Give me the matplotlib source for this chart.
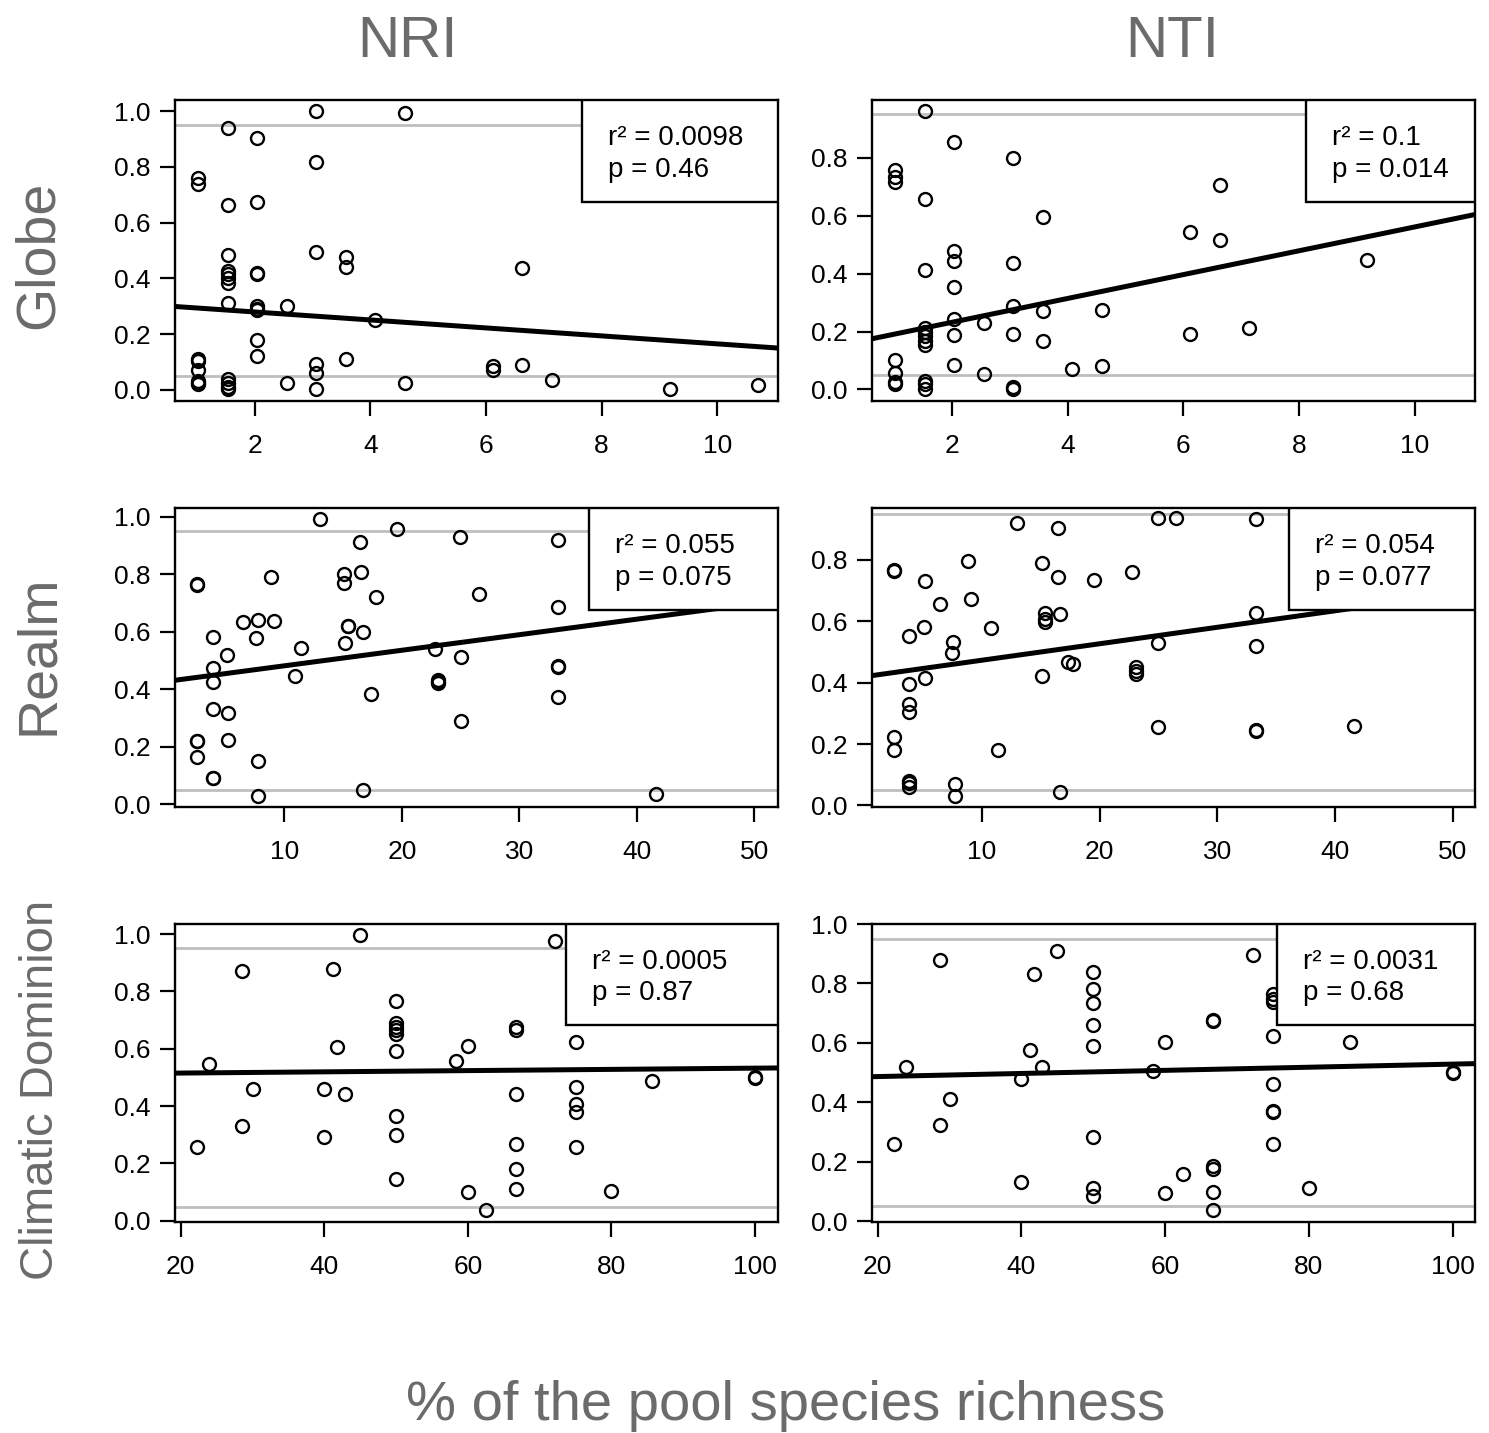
#!/usr/bin/env python3
import matplotlib
matplotlib.use('Agg')
import matplotlib.pyplot as plt
from matplotlib.patches import Rectangle

plt.rcParams['font.family'] = ['Liberation Sans', 'DejaVu Sans']

# ---- Globe, NRI ----
globe_nri_x = [1.02, 1.02, 1.02, 1.02, 1.02, 1.02, 1.02, 1.02,
               1.53, 1.53, 1.53, 1.53, 1.53, 1.53, 1.53, 1.53, 1.53, 1.53, 1.53, 1.53,
               2.04, 2.04, 2.04, 2.04, 2.04, 2.04, 2.04, 2.04, 2.04,
               2.55, 2.55, 3.06, 3.06, 3.06, 3.06, 3.06, 3.06,
               3.57, 3.57, 3.57, 4.08, 4.59, 4.59, 6.12, 6.12, 6.63, 6.63,
               7.14, 9.18, 10.71]
globe_nri_y = [0.76, 0.74, 0.11, 0.105, 0.07, 0.03, 0.025, 0.02,
               0.94, 0.665, 0.485, 0.425, 0.415, 0.40, 0.385, 0.31, 0.04, 0.026, 0.01, 0.002,
               0.905, 0.675, 0.42, 0.415, 0.30, 0.29, 0.285, 0.18, 0.12,
               0.30, 0.024, 1.0, 0.817, 0.493, 0.093, 0.062, 0.002,
               0.475, 0.44, 0.11, 0.249, 0.992, 0.026, 0.086, 0.072, 0.437, 0.09,
               0.036, 0.004, 0.017]

# ---- Globe, NTI ----
globe_nti_x = [1.02, 1.02, 1.02, 1.02, 1.02, 1.02, 1.02,
               1.53, 1.53, 1.53, 1.53, 1.53, 1.53, 1.53, 1.53, 1.53, 1.53, 1.53,
               2.04, 2.04, 2.04, 2.04, 2.04, 2.04, 2.04,
               2.55, 2.55, 3.06, 3.06, 3.06, 3.06, 3.06, 3.06,
               3.57, 3.57, 3.57, 4.08, 4.59, 4.59, 6.12, 6.12, 6.63, 6.63,
               7.14, 9.18]
globe_nti_y = [0.757, 0.734, 0.716, 0.101, 0.058, 0.025, 0.018,
               0.961, 0.658, 0.414, 0.211, 0.198, 0.184, 0.167, 0.152, 0.03, 0.02, 0.002,
               0.855, 0.478, 0.443, 0.355, 0.244, 0.188, 0.083,
               0.23, 0.052, 0.80, 0.436, 0.288, 0.19, 0.008, 0.002,
               0.596, 0.27, 0.167, 0.071, 0.276, 0.08, 0.543, 0.19, 0.708, 0.516,
               0.213, 0.447]

# ---- Realm, NRI ----
realm_nri_x = [2.61, 2.61, 2.61, 2.61, 2.61,
               3.93, 3.93, 3.93, 3.93, 3.93, 3.93,
               5.15, 5.2, 5.2, 6.47, 7.6, 7.8, 7.8, 7.8, 8.86, 9.13,
               10.87, 11.4, 13.03, 15.12, 15.12, 15.2, 15.42, 15.42,
               16.45, 16.52, 16.7, 16.7, 17.39, 17.77, 19.6,
               22.78, 23.08, 23.08, 23.08, 24.98, 25.05, 25.05, 26.57,
               33.3, 33.3, 33.3, 33.3, 33.3, 41.66]
realm_nri_y = [0.763, 0.765, 0.22, 0.218, 0.164,
               0.582, 0.474, 0.425, 0.33, 0.092, 0.09,
               0.52, 0.316, 0.222, 0.632, 0.578, 0.642, 0.15, 0.029, 0.79, 0.638,
               0.445, 0.543, 0.992, 0.801, 0.769, 0.561, 0.621, 0.618,
               0.913, 0.809, 0.598, 0.049, 0.382, 0.72, 0.956,
               0.541, 0.432, 0.425, 0.42, 0.928, 0.512, 0.289, 0.732,
               0.919, 0.686, 0.48, 0.476, 0.373, 0.035]

# ---- Realm, NTI ----
realm_nti_x = [2.54, 2.54, 2.54, 2.54,
               3.84, 3.84, 3.84, 3.84, 3.84, 3.84, 3.84,
               5.07, 5.19, 5.19, 6.46, 7.57, 7.45, 7.76, 7.76, 8.81, 9.07,
               10.82, 11.38, 12.99, 15.1, 15.1, 15.35, 15.35, 15.35,
               16.45, 16.45, 16.64, 16.64, 17.35, 17.72, 19.51, 22.76,
               23.06, 23.06, 23.06, 25.0, 25.0, 25.0, 26.53,
               33.32, 33.32, 33.32, 33.32, 33.32, 41.64]
realm_nti_y = [0.762, 0.765, 0.224, 0.181,
               0.55, 0.394, 0.331, 0.304, 0.081, 0.073, 0.06,
               0.582, 0.73, 0.414, 0.654, 0.533, 0.495, 0.07, 0.03, 0.795, 0.672,
               0.578, 0.181, 0.919, 0.789, 0.42, 0.627, 0.607, 0.598,
               0.902, 0.743, 0.623, 0.043, 0.466, 0.461, 0.735, 0.761,
               0.45, 0.438, 0.428, 0.934, 0.528, 0.255, 0.934,
               0.932, 0.627, 0.518, 0.246, 0.242, 0.258]

# ---- Climatic Dominion, NRI ----
cd_nri_x = [22.2, 24.0, 28.6, 28.6, 30.0, 40.0, 40.0, 41.2, 41.7, 42.9, 45.0,
            50, 50, 50, 50, 50, 50, 50, 50, 50,
            58.3, 60, 60, 62.5, 66.7, 66.7, 66.7, 66.7, 66.7, 66.7,
            72.2, 75, 75, 75, 75, 75, 80, 85.7, 100, 100]
cd_nri_y = [0.257, 0.547, 0.87, 0.329, 0.461, 0.459, 0.291, 0.878, 0.607, 0.444, 0.997,
            0.767, 0.69, 0.676, 0.664, 0.65, 0.591, 0.366, 0.298, 0.146,
            0.558, 0.61, 0.102, 0.037, 0.677, 0.664, 0.444, 0.268, 0.182, 0.111,
            0.976, 0.624, 0.467, 0.407, 0.381, 0.257, 0.105, 0.486, 0.503, 0.498]

# ---- Climatic Dominion, NTI ----
cd_nti_x = [22.2, 24.0, 28.6, 28.6, 30.0, 40.0, 40.0, 41.2, 41.7, 42.9, 45.0,
            50, 50, 50, 50, 50, 50, 50, 50,
            58.3, 60, 60, 62.5, 66.7, 66.7, 66.7, 66.7, 66.7, 66.7,
            72.2, 75, 75, 75, 75, 75, 75, 75, 75, 80, 85.7, 100, 100]
cd_nti_y = [0.261, 0.519, 0.878, 0.322, 0.411, 0.478, 0.13, 0.577, 0.833, 0.519, 0.908,
            0.839, 0.78, 0.733, 0.66, 0.588, 0.283, 0.113, 0.086,
            0.504, 0.604, 0.093, 0.158, 0.678, 0.672, 0.186, 0.174, 0.097, 0.036,
            0.894, 0.763, 0.749, 0.738, 0.622, 0.461, 0.371, 0.366, 0.258, 0.11, 0.602, 0.502, 0.498]

# fitted lines (intercept, slope) and the stats shown in the boxes
fit_lines = [(0.308, -0.0143), (0.1495, 0.0412),
             (0.427, 0.00541), (0.419, 0.00536),
             (0.511, 0.000214), (0.476, 0.000524)]
r2_labels = ['0.0098', '0.1', '0.055', '0.054', '0.0005', '0.0031']
p_labels = ['0.46', '0.014', '0.075', '0.077', '0.87', '0.68']

col_titles = ['NRI', 'NTI']
row_titles = ['Globe', 'Realm', 'Climatic Dominion']
x_label = '% of the pool species richness'

x_ticks = [[2, 4, 6, 8, 10], [10, 20, 30, 40, 50], [20, 40, 60, 80, 100]]
y_ticks_nri = [0.0, 0.2, 0.4, 0.6, 0.8, 1.0]
y_ticks_nti = [[0.0, 0.2, 0.4, 0.6, 0.8], [0.0, 0.2, 0.4, 0.6, 0.8], [0.0, 0.2, 0.4, 0.6, 0.8, 1.0]]

TEXT_GREY = '#6b6b6b'
W, H = 1489, 1433


def draw_panel(ax, xs, ys, xlim, ylim, xt, yt, fit, r2, p, box_left):
    ax.axhline(0.05, color='#bebebe', lw=2.0, zorder=1)
    ax.axhline(0.95, color='#bebebe', lw=2.0, zorder=1)
    ax.plot(xs, ys, 'o', mfc='none', mec='black', ms=9.3, mew=1.7, zorder=2)
    ax.axline((0, fit[0]), slope=fit[1], color='black', lw=3.6, zorder=3)

    ax.set_xlim(xlim)
    ax.set_ylim(ylim)
    ax.set_xticks(xt)
    ax.set_xticklabels([f'{t:g}' for t in xt])
    ax.set_yticks(yt)
    ax.set_yticklabels([f'{t:.1f}' for t in yt])
    ax.tick_params(axis='both', length=10.5, width=1.6, labelsize=19)
    ax.tick_params(axis='x', pad=13)
    ax.tick_params(axis='y', pad=7)
    for s in ax.spines.values():
        s.set_linewidth(1.7)

    # stats box in the top right corner, like R's legend()
    box = Rectangle((box_left, 0.66), 1 - box_left, 0.34, transform=ax.transAxes,
                    fc='white', ec='black', lw=1.7, zorder=5)
    ax.add_patch(box)
    tx = box_left + 26 / 603
    ax.text(tx, 1 - 45 / 300, f'r\u00b2 = {r2}', transform=ax.transAxes,
            fontsize=20, va='baseline', zorder=6)
    ax.text(tx, 1 - 77 / 300, f'p = {p}', transform=ax.transAxes,
            fontsize=20, va='baseline', zorder=6)


def main():
    fig = plt.figure(figsize=(W / 100, H / 100), dpi=100)

    col_left = [175 / W, 872 / W]
    col_w = 603 / W
    rows = [(1 - 401 / H, 301 / H), (1 - 807 / H, 299 / H), (1 - 1222 / H, 298 / H)]

    panels = [
        (globe_nri_x, globe_nri_y, (0.62, 11.05), (-0.04, 1.04), 0.675),
        (globe_nti_x, globe_nti_y, (0.62, 11.04), (-0.04, 1.0), 0.720),
        (realm_nri_x, realm_nri_y, (0.7, 52.0), (-0.01, 1.03), 0.687),
        (realm_nti_x, realm_nti_y, (0.67, 51.9), (-0.005, 0.968), 0.692),
        (cd_nri_x, cd_nri_y, (19.2, 103.2), (-0.004, 1.035), 0.648),
        (cd_nti_x, cd_nti_y, (19.2, 103.1), (-0.003, 1.0), 0.672),
    ]

    for i, (xs, ys, xlim, ylim, box_left) in enumerate(panels):
        r, c = divmod(i, 2)
        bottom, height = rows[r]
        ax = fig.add_axes([col_left[c], bottom, col_w, height])
        yt = y_ticks_nri if c == 0 else y_ticks_nti[r]
        draw_panel(ax, xs, ys, xlim, ylim, x_ticks[r], yt, fit_lines[i],
                   r2_labels[i], p_labels[i], box_left)

    fig.text(407 / W, 1 - 57 / H, col_titles[0], fontsize=42, color=TEXT_GREY,
             ha='center', va='baseline')
    fig.text(1172 / W, 1 - 57 / H, col_titles[1], fontsize=42, color=TEXT_GREY,
             ha='center', va='baseline')

    row_y = [255, 655, 1090]
    row_size = [40, 40, 34]
    for name, yy, fs in zip(row_titles, row_y, row_size):
        fig.text(53 / W, 1 - yy / H, name, fontsize=fs, color=TEXT_GREY, rotation=90,
                 rotation_mode='anchor', ha='center', va='baseline')

    fig.text(786 / W, 1 - 1420 / H, x_label, fontsize=40.5, color=TEXT_GREY,
             ha='center', va='baseline')

    fig.savefig('out.png', dpi=100)


if __name__ == '__main__':
    main()
